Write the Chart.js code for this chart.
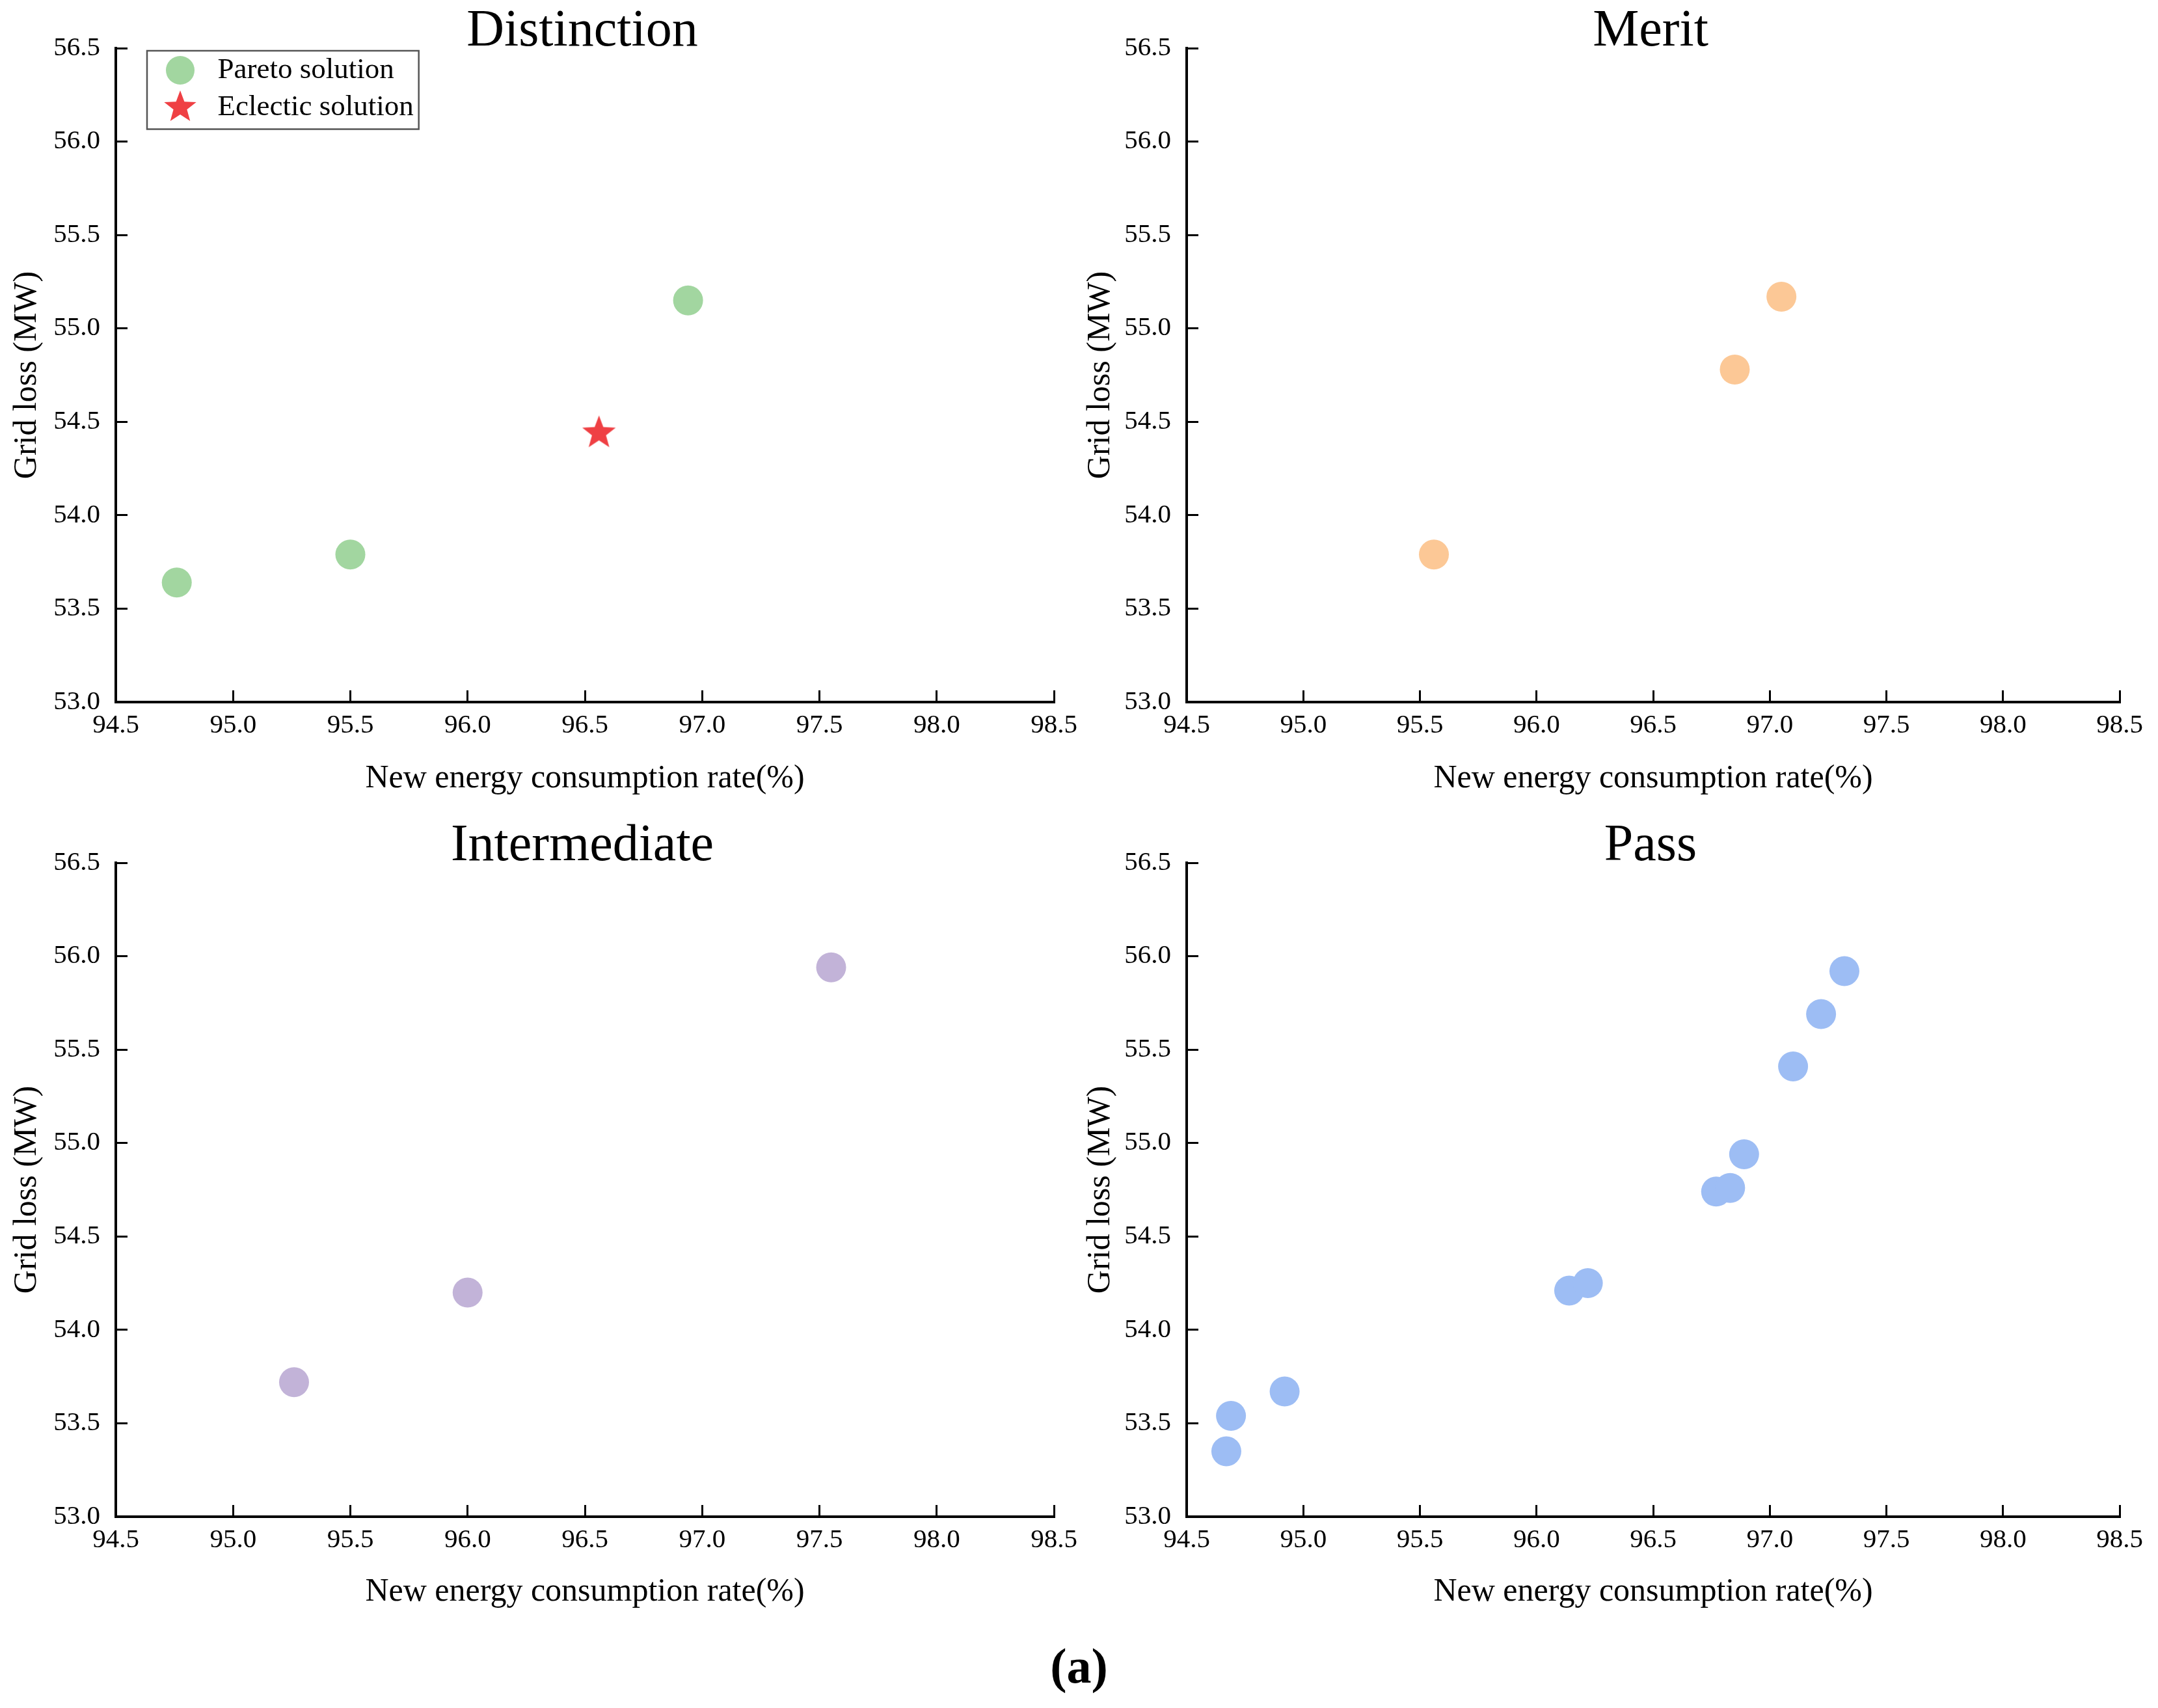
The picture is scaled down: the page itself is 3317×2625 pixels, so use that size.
<!DOCTYPE html>
<html>
<head>
<meta charset="utf-8">
<title>Distinction / Merit / Intermediate / Pass</title>
<script src="https://cdn.jsdelivr.net/npm/chart.js@4.4.1/dist/chart.umd.min.js"></script>
<style>
  html, body { margin: 0; padding: 0; background: #fff; }
  #page { position: relative; width: 3317px; height: 2625px; overflow: hidden; background: #fff; }
  .panel { position: absolute; }
  #caption {
    position: absolute; left: 0; width: 3317px; top: 2515px;
    text-align: center; font-family: "Liberation Serif", "Times New Roman", serif;
    font-weight: bold; font-size: 76px; line-height: 90px; color: #000;
  }
</style>
</head>
<body>
<div id="page">
  <canvas id="grafDistinction" class="panel"></canvas>
  <canvas id="grafMerit" class="panel"></canvas>
  <canvas id="grafIntermediate" class="panel"></canvas>
  <canvas id="grafPass" class="panel"></canvas>
  <div id="caption">(a)</div>
</div>
<script>
// ===== Data =====
const xTickValues = [94.5, 95.0, 95.5, 96.0, 96.5, 97.0, 97.5, 98.0, 98.5];
const yTickValues = [53.0, 53.5, 54.0, 54.5, 55.0, 55.5, 56.0, 56.5];

const panelTitles = ['Distinction', 'Merit', 'Intermediate', 'Pass'];
const seriesLabels = ['Pareto solution', 'Eclectic solution'];

const distinctionX = [94.76, 95.50, 96.94];
const distinctionY = [53.64, 53.79, 55.15];
const eclecticX = [96.56];
const eclecticY = [54.44];

const meritX = [95.56, 96.85, 97.05];
const meritY = [53.79, 54.78, 55.17];

const intermediateX = [95.26, 96.00, 97.55];
const intermediateY = [53.72, 54.20, 55.94];

const passX = [94.67, 94.69, 94.92, 96.14, 96.22, 96.77, 96.83, 96.89, 97.10, 97.22, 97.32];
const passY = [53.35, 53.54, 53.67, 54.21, 54.25, 54.74, 54.76, 54.94, 55.41, 55.69, 55.92];

// ===== Styles / layout =====
const FONT = '"Liberation Serif", "Times New Roman", serif';
const COLORS = {
  green: '#a2d6a0',
  red: '#ef4044',
  orange: '#fcc896',
  purple: '#c2b3d8',
  blue: '#9dbdf4'
};

// canvas boxes on the page and the wanted plot area inside each canvas
// (canvases are a bit wider than half the page: chart.js keeps room for the last tick label)
const panelBoxes = [
  { id: 'grafDistinction', left: 0, top: 0, width: 1700, height: 1250, area: { l: 178, t: 74, r: 1620, b: 1079 } },
  { id: 'grafMerit', left: 1650, top: 0, width: 1690, height: 1250, area: { l: 174, t: 74, r: 1608, b: 1079 } },
  { id: 'grafIntermediate', left: 0, top: 1250, width: 1700, height: 1250, area: { l: 178, t: 76, r: 1620, b: 1081 } },
  { id: 'grafPass', left: 1650, top: 1250, width: 1690, height: 1250, area: { l: 174, t: 76, r: 1608, b: 1081 } }
];

const LEGEND = { font: 45, pad: 12, boxW: 70, boxH: 31 };

const toPoints = (xs, ys) => xs.map((x, i) => ({ x: x, y: ys[i] }));

// ===== Marker images (filled star + circle for legend) =====
function makeStar(R, color) {
  const size = Math.ceil(R * 2 + 4);
  const c = document.createElement('canvas');
  c.width = size;
  c.height = size;
  const ctx = c.getContext('2d');
  const cx = size / 2, cy = size / 2, r = R * 0.42;
  ctx.fillStyle = color;
  ctx.beginPath();
  for (let i = 0; i < 10; i++) {
    const a = -Math.PI / 2 + i * Math.PI / 5;
    const rad = i % 2 === 0 ? R : r;
    const px = cx + rad * Math.cos(a), py = cy + rad * Math.sin(a);
    if (i === 0) ctx.moveTo(px, py); else ctx.lineTo(px, py);
  }
  ctx.closePath();
  ctx.fill();
  return c;
}

function makeCircle(R, color) {
  const size = Math.ceil(R * 2 + 2);
  const c = document.createElement('canvas');
  c.width = size;
  c.height = size;
  const ctx = c.getContext('2d');
  ctx.fillStyle = color;
  ctx.beginPath();
  ctx.arc(size / 2, size / 2, R, 0, Math.PI * 2);
  ctx.fill();
  return c;
}

const starImg = makeStar(27, COLORS.red);
const legendIcons = [makeCircle(22, COLORS.green), makeStar(26, COLORS.red)];

// ===== Plugins =====
const panelTitlePlugin = {
  id: 'panelTitle',
  afterDraw(chart, args, opts) {
    if (!opts.text) return;
    const { ctx, chartArea } = chart;
    ctx.save();
    ctx.font = '80px ' + FONT;
    ctx.fillStyle = '#000';
    ctx.textAlign = 'center';
    ctx.textBaseline = 'alphabetic';
    ctx.fillText(opts.text, (chartArea.left + chartArea.right) / 2 - 4, chartArea.top - 4);
    ctx.restore();
  }
};

// legend sits inside the plot, framed by a thin grey box
const legendFramePlugin = {
  id: 'legendFrame',
  afterLayout(chart, args, opts) {
    const lg = chart.legend;
    if (!opts.enabled || !lg || !lg.options.display) return;
    lg.left = chart.chartArea.left + opts.dx;
    lg.top = chart.chartArea.top + opts.dy;
    lg.right = lg.left + lg.width;
    lg.bottom = lg.top + lg.height;
  },
  afterDraw(chart, args, opts) {
    const lg = chart.legend;
    if (!opts.enabled || !lg || !lg.legendItems || !lg.legendItems.length) return;
    const ctx = chart.ctx;
    ctx.save();
    ctx.font = LEGEND.font + 'px ' + FONT;
    const textW = Math.max(...lg.legendItems.map(it => ctx.measureText(it.text).width));
    const n = lg.legendItems.length;
    const left = lg.left - 4;
    const right = lg.left + LEGEND.pad + LEGEND.boxW + LEGEND.font / 2 + textW + 8;
    const top = lg.top + 4.5;
    const bottom = lg.top + LEGEND.pad + n * LEGEND.font + (n - 1) * LEGEND.pad + 11;
    ctx.strokeStyle = '#555';
    ctx.lineWidth = 2.5;
    ctx.strokeRect(left, top, right - left, bottom - top);
    ctx.restore();
  }
};

// ===== Chart builder =====
function buildChart(box, title, datasets, showLegend) {
  const canvas = document.getElementById(box.id);
  canvas.width = box.width;
  canvas.height = box.height;
  canvas.style.left = box.left + 'px';
  canvas.style.top = box.top + 'px';
  canvas.style.width = box.width + 'px';
  canvas.style.height = box.height + 'px';

  const tickFont = { family: FONT, size: 41 };
  const axisTitleFont = { family: FONT, size: 50 };

  return new Chart(canvas.getContext('2d'), {
    type: 'scatter',
    data: { datasets: datasets },
    options: {
      responsive: false,
      animation: false,
      devicePixelRatio: 1,
      layout: {
        padding: { left: 0, top: box.area.t, right: box.width - box.area.r, bottom: 0 }
      },
      plugins: {
        tooltip: { enabled: false },
        title: { display: false },
        panelTitle: { text: title },
        legendFrame: { enabled: showLegend, dx: 52, dy: -0.5 },
        legend: {
          display: showLegend,
          position: 'chartArea',
          align: 'start',
          labels: {
            usePointStyle: true,
            pointStyleWidth: LEGEND.boxW,
            boxHeight: LEGEND.boxH,
            padding: LEGEND.pad,
            color: '#000',
            font: { family: FONT, size: LEGEND.font },
            generateLabels(chart) {
              const items = Chart.defaults.plugins.legend.labels.generateLabels(chart);
              items.forEach(it => { it.pointStyle = legendIcons[it.datasetIndex]; });
              return items;
            }
          }
        }
      },
      scales: {
        x: {
          type: 'linear',
          position: 'bottom',
          min: xTickValues[0],
          max: xTickValues[xTickValues.length - 1],
          afterBuildTicks: s => { s.ticks = xTickValues.map(v => ({ value: v })); },
          afterFit: s => { s.height = box.height - box.area.b; },
          border: { display: true, color: '#000', width: 4 },
          grid: { drawOnChartArea: false, drawTicks: true, tickLength: -18, tickWidth: 3, tickColor: '#000' },
          ticks: {
            autoSkip: false, maxRotation: 0, color: '#000', font: tickFont, padding: 30,
            callback: v => Number(v).toFixed(1)
          },
          title: {
            display: true, text: 'New energy consumption rate(%)', color: '#000',
            font: axisTitleFont, padding: { top: 0, bottom: 23 }
          }
        },
        y: {
          type: 'linear',
          position: 'left',
          min: yTickValues[0],
          max: yTickValues[yTickValues.length - 1],
          afterBuildTicks: s => { s.ticks = yTickValues.map(v => ({ value: v })); },
          afterFit: s => { s.width = box.area.l; },
          border: { display: true, color: '#000', width: 4 },
          grid: { drawOnChartArea: false, drawTicks: true, tickLength: -18, tickWidth: 3, tickColor: '#000' },
          ticks: {
            autoSkip: false, color: '#000', font: tickFont, padding: 42,
            callback: v => Number(v).toFixed(1)
          },
          title: {
            display: true, text: 'Grid loss (MW)', color: '#000',
            font: axisTitleFont, padding: { top: 12, bottom: 0 }
          }
        }
      }
    },
    plugins: [panelTitlePlugin, legendFramePlugin]
  });
}

function circleSet(label, xs, ys, color) {
  return {
    label: label,
    data: toPoints(xs, ys),
    pointStyle: 'circle',
    pointRadius: 23,
    pointHoverRadius: 23,
    borderWidth: 0,
    backgroundColor: color,
    borderColor: color
  };
}

// ===== Panels =====
buildChart(panelBoxes[0], panelTitles[0], [
  circleSet(seriesLabels[0], distinctionX, distinctionY, COLORS.green),
  {
    label: seriesLabels[1],
    data: toPoints(eclecticX, eclecticY),
    pointStyle: starImg,
    pointRadius: 27,
    borderWidth: 0,
    backgroundColor: COLORS.red,
    borderColor: COLORS.red
  }
], true);

buildChart(panelBoxes[1], panelTitles[1], [
  circleSet(seriesLabels[0], meritX, meritY, COLORS.orange)
], false);

buildChart(panelBoxes[2], panelTitles[2], [
  circleSet(seriesLabels[0], intermediateX, intermediateY, COLORS.purple)
], false);

buildChart(panelBoxes[3], panelTitles[3], [
  circleSet(seriesLabels[0], passX, passY, COLORS.blue)
], false);
</script>
</body>
</html>
